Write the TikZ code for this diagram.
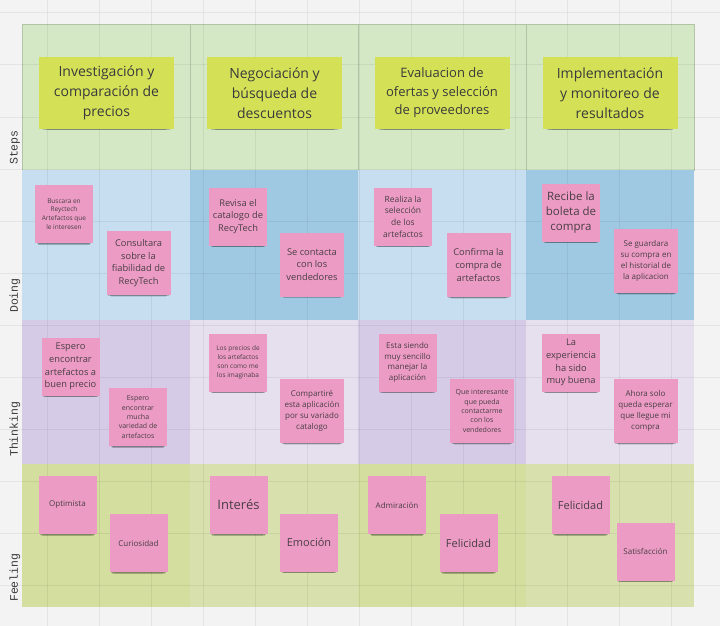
\documentclass[tikz,border=0pt]{standalone}
\usepackage{fontspec}
\setmainfont{Open Sans}
\newfontfamily\labelfont{Liberation Mono}
\usepackage{xcolor}
\usetikzlibrary{shadows}

\definecolor{boardbg}{HTML}{F3F3F3}
\definecolor{stepgreen}{HTML}{D5E8C5}
\definecolor{stepedge}{HTML}{B2C4A6}
\definecolor{doinglight}{HTML}{C7DEF0}
\definecolor{doingdark}{HTML}{9FC9E3}
\definecolor{thinkdark}{HTML}{D5CBE7}
\definecolor{thinklight}{HTML}{E5DFEE}
\definecolor{feeldark}{HTML}{D4DE9E}
\definecolor{feellight}{HTML}{D8E1AE}
\definecolor{limenote}{HTML}{D4E157}
\definecolor{pinknote}{HTML}{EC9CC4}
\definecolor{notetext}{HTML}{4A3D45}
\definecolor{labeltext}{HTML}{3A3A3A}

\begin{document}
\begin{tikzpicture}[x=1pt,y=-1pt,
    note/.style={inner sep=0pt, align=center, text=notetext,
        general shadow={shadow yshift=-7pt, shadow scale=0.86, opacity=0.1, fill=black},
        general shadow={shadow yshift=-5pt, shadow scale=0.9, opacity=0.16, fill=black},
        general shadow={shadow yshift=-3pt, shadow scale=0.94, opacity=0.2, fill=black}},
    stepnote/.style={note, fill=limenote, minimum width=135pt, minimum height=72pt,
        text=labeltext, font=\fontsize{14}{20}\selectfont},
    pinknote/.style={note, fill=pinknote, minimum width=58pt, minimum height=58pt},
    bignote/.style={pinknote, minimum width=64pt, minimum height=64pt},
    notexs/.style={font=\fontsize{6.5}{8.8}\selectfont},
    notesm/.style={font=\fontsize{7}{9.3}\selectfont},
    notemd/.style={font=\fontsize{8}{10.8}\selectfont},
    notelg/.style={font=\fontsize{9.3}{12.8}\selectfont},
    notexl/.style={font=\fontsize{11}{15}\selectfont},
    rowlabel/.style={rotate=90, anchor=west, inner sep=0pt, text=labeltext,
        font=\labelfont\fontsize{11.5}{12}\selectfont},
    gridline/.style={black, opacity=0.06, line width=1pt}]

    % Board background
    \useasboundingbox (0,0) rectangle (720,626);
    \fill[boardbg] (0,0) rectangle (720,626);

    % Lanes
    \foreach \c in {0,...,3}
        \draw[fill=stepgreen, draw=stepedge] ({22+168*\c},24) rectangle ++(168,146);
    \foreach \c/\col in {0/doinglight,1/doingdark,2/doinglight,3/doingdark}
        \fill[\col] ({22+168*\c},170) rectangle ++(168,150);
    \foreach \c/\col in {0/thinkdark,1/thinklight,2/thinkdark,3/thinklight}
        \fill[\col] ({22+168*\c},320) rectangle ++(168,144);
    \foreach \c/\col in {0/feeldark,1/feellight,2/feeldark,3/feellight}
        \fill[\col] ({22+168*\c},464) rectangle ++(168,143);

    % Grid
    \foreach \gx in {47,99,...,723}
        \draw[gridline] (\gx,0) -- (\gx,626);
    \foreach \gy in {13,65,...,585}
        \draw[gridline] (0,\gy) -- (720,\gy);

    % Row labels
    \node[rowlabel] (lsteps) at (15,165) {Steps};
    \node[rowlabel] (ldoing) at (15,313) {Doing};
    \node[rowlabel] (lthinking) at (15,457) {Thinking};
    \node[rowlabel] (lfeeling) at (15,602) {Feeling};

    % Steps
    \node[stepnote] (s1) at (106.5,93) {Investigación y\\comparación de\\precios};
    \node[stepnote] (s2) at (274.5,93) {Negociación y\\búsqueda de\\descuentos};
    \node[stepnote, font=\fontsize{13}{18.5}\selectfont] (s3) at (442,93) {Evaluacion de\\ofertas y selección\\de proveedores};
    \node[stepnote] (s4) at (610,93) {Implementación\\y monitoreo de\\resultados};

    % Doing
    \node[pinknote, notexs] (d1a) at (64,214) {Buscara en\\Reyctech\\Artefactos que\\le interesen};
    \node[bignote, notelg] (d1b) at (138.5,263) {Consultara\\sobre la\\fiabilidad de\\RecyTech};
    \node[pinknote, notelg] (d2a) at (238,216.5) {Revisa el\\catalogo de\\RecyTech};
    \node[bignote, notelg] (d2b) at (312,264.5) {Se contacta\\con los\\vendedores};
    \node[pinknote, font=\fontsize{8.5}{11.7}\selectfont] (d3a) at (403,216.5) {Realiza la\\selección\\de los\\artefactos};
    \node[bignote, notelg] (d3b) at (478.5,265) {Confirma la\\compra de\\artefactos};
    \node[pinknote, font=\fontsize{11.5}{15}\selectfont] (d4a) at (571,212.5) {Recibe la\\boleta de\\compra};
    \node[bignote, notemd] (d4b) at (646,261) {Se guardara\\su compra en\\el historial de\\la aplicacion};

    % Thinking
    \node[pinknote, notelg] (t1a) at (70.5,366.5) {Espero\\encontrar\\artefactos a\\buen precio};
    \node[pinknote, notesm] (t1b) at (138,417) {Espero\\encontrar\\mucha\\variedad de\\artefactos};
    \node[pinknote, notexs] (t2a) at (238,362.5) {Los precios de\\los artefactos\\son como me\\los imaginaba};
    \node[bignote, notemd] (t2b) at (312,411) {Compartiré\\esta aplicación\\por su variado\\catalogo};
    \node[pinknote, notemd] (t3a) at (407.5,362.5) {Esta siendo\\muy sencillo\\manejar la\\aplicación};
    \node[bignote, notesm] (t3b) at (482,411) {Que interesante\\que pueda\\contactarme\\con los\\vendedores};
    \node[pinknote, notelg] (t4a) at (571,362.5) {La\\experiencia\\ha sido\\muy buena};
    \node[bignote, notemd] (t4b) at (645.5,411) {Ahora solo\\queda esperar\\que llegue mi\\compra};

    % Feeling
    \node[pinknote, notemd] (f1a) at (67.5,505) {Optimista};
    \node[pinknote, notemd] (f1b) at (138.5,543) {Curiosidad};
    \node[pinknote, font=\fontsize{13}{16}\selectfont] (f2a) at (238.5,505) {Interés};
    \node[pinknote, notexl] (f2b) at (309,542.5) {Emoción};
    \node[pinknote, notemd] (f3a) at (397,505) {Admiración};
    \node[pinknote, notexl] (f3b) at (468.5,543) {Felicidad};
    \node[pinknote, notexl] (f4a) at (580.5,505) {Felicidad};
    \node[pinknote, notemd] (f4b) at (645.5,551.5) {Satisfacción};
\end{tikzpicture}
\end{document}
